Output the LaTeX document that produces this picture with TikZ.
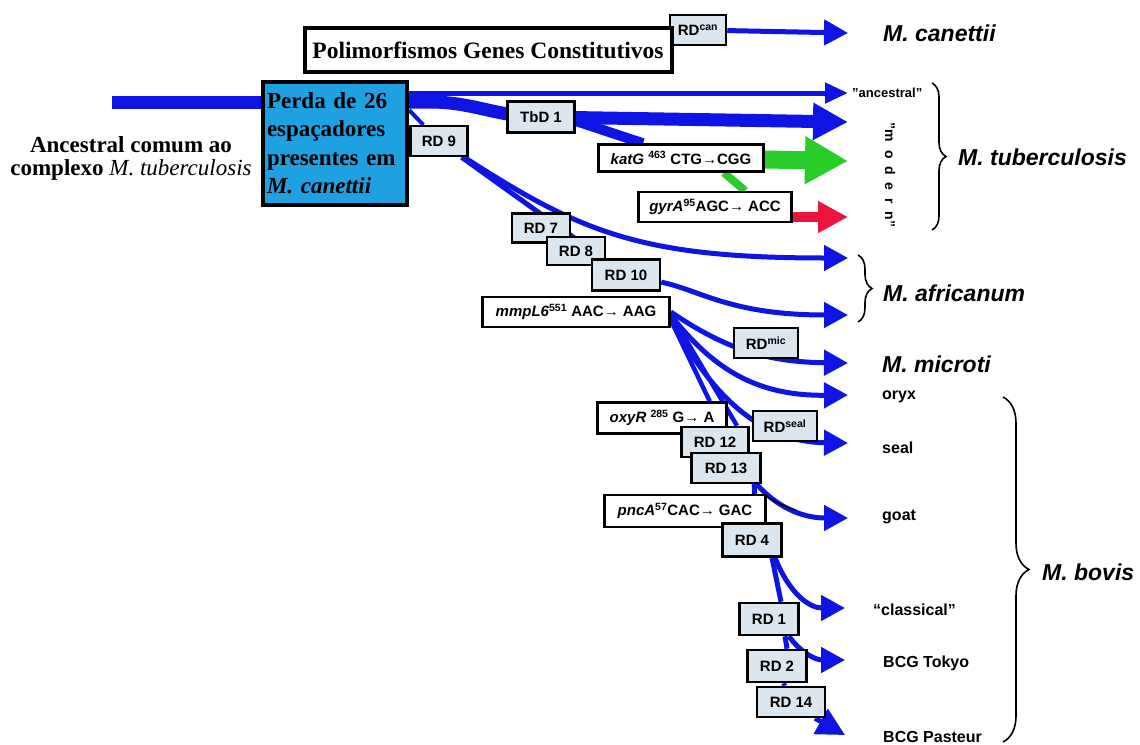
\documentclass[tikz,border=0pt]{standalone}
\usepackage{fontspec}
\setmainfont{Liberation Serif}
\setsansfont{Liberation Sans}
\usetikzlibrary{arrows.meta,backgrounds,decorations.pathreplacing}
\definecolor{tbblue}{RGB}{14,20,228}
\definecolor{boxfill}{RGB}{220,230,238}
\definecolor{lossblue}{RGB}{30,160,225}
\definecolor{katgreen}{RGB}{40,205,40}
\definecolor{gyrred}{RGB}{235,20,60}
\tikzset{
  rdbox/.style={draw, line width=2.5pt, fill=boxfill, inner sep=0pt, font=\sffamily\bfseries\fontsize{15}{15}\selectfont},
  mutbox/.style={rdbox, fill=white},
  branch/.style={tbblue, line width=5pt},
  arr/.style={-{Triangle[length=24pt,width=25pt]}},
  species/.style={anchor=west, inner sep=0pt, font=\sffamily\bfseries\itshape\fontsize{23}{23}\selectfont},
  host/.style={anchor=west, inner sep=0pt, font=\sffamily\bfseries\fontsize{16}{16}\selectfont},
  grp/.style={decorate, decoration={brace, amplitude=#1}, line width=1.6pt},
}
\begin{document}
\begin{tikzpicture}[x=1pt,y=-1pt]
	\useasboundingbox (0,0) rectangle (1140,744);
	% caixas
	\node[rdbox, minimum width=56pt, minimum height=30pt] (rdcan) at (698,30) {RD\textsuperscript{can}};
	\node[draw, line width=4pt, fill=white, minimum width=367pt, minimum height=44pt, font=\bfseries\fontsize{23.5}{24}\selectfont] (poly) at (488,50) {Polimorfismos Genes Constitutivos};
	\node[draw, line width=4pt, fill=lossblue, minimum width=144pt, minimum height=123pt, text width=136pt, inner sep=2pt, align=left, font=\bfseries\fontsize{23}{28.5}\selectfont] (loss) at (335,143) {Perda de 26\\espaçadores\\presentes em\\\textit{M. canettii}};
	\node[align=center, font=\bfseries\fontsize{23}{23}\selectfont] (anc) at (131,158) {Ancestral comum ao\\complexo \textit{\mdseries M. tuberculosis}};
	\node[rdbox, minimum width=67pt, minimum height=31pt] (tbd1) at (541,117) {TbD 1};
	\node[rdbox, minimum width=57pt, minimum height=30pt] (rd9) at (439,141) {RD 9};
	\node[mutbox, minimum width=165pt, minimum height=27pt] (katg) at (681,158) {\textit{katG} \textsuperscript{463} CTG→CGG};
	\node[mutbox, minimum width=153pt, minimum height=30pt] (gyra) at (715,207) {\textit{gyrA}\textsuperscript{95}AGC→ ACC};
	\node[rdbox, minimum width=58pt, minimum height=29pt] (rd7) at (541,228) {RD 7};
	\node[rdbox, minimum width=58pt, minimum height=28pt] (rd8) at (576,251) {RD 8};
	\node[rdbox, minimum width=68pt, minimum height=31pt] (rd10) at (626,275) {RD 10};
	\node[mutbox, minimum width=187pt, minimum height=30pt] (mmpl6) at (576,312) {\textit{mmpL6}\textsuperscript{551} AAC→ AAG};
	\node[rdbox, minimum width=64pt, minimum height=30pt] (rdmic) at (766,343) {RD\textsuperscript{mic}};
	\node[rdbox, minimum width=64pt, minimum height=30pt] (rdseal) at (785,426) {RD\textsuperscript{seal}};
	\node[mutbox, minimum width=129pt, minimum height=31pt] (oxyr) at (662,418) {\textit{oxyR} \textsuperscript{285} G→ A};
	\node[rdbox, minimum width=67pt, minimum height=30pt] (rd12) at (715,442) {RD 12};
	\node[rdbox, minimum width=69pt, minimum height=30pt] (rd13) at (726,468) {RD 13};
	\node[mutbox, minimum width=161pt, minimum height=32pt] (pnca) at (685,511) {\textit{pncA}\textsuperscript{57}CAC→ GAC};
	\node[rdbox, minimum width=59pt, minimum height=33pt] (rd4) at (752,540) {RD 4};
	\node[rdbox, minimum width=59pt, minimum height=32pt] (rd1) at (769,619) {RD 1};
	\node[rdbox, minimum width=59pt, minimum height=32pt] (rd2) at (777,666) {RD 2};
	\node[rdbox, minimum width=68pt, minimum height=30pt] (rd14) at (791,702) {RD 14};
	% pontas
	\coordinate (root) at (112,102);
	\coordinate (tcan) at (848,33);
	\coordinate (tanc) at (848,93);
	\coordinate (tmod) at (848,122);
	\coordinate (tkat) at (848,161);
	\coordinate (tgyr) at (848,217);
	\coordinate (tafr1) at (848,258);
	\coordinate (tafr2) at (848,315);
	\coordinate (tmic) at (848,363);
	\coordinate (tory) at (848,395);
	\coordinate (tsea) at (848,443);
	\coordinate (tgoa) at (848,518);
	\coordinate (tcla) at (845,608);
	\coordinate (ttok) at (845,660);
	\coordinate (tpas) at (845,735);
	% ramos
	\begin{scope}[on background layer]
		\draw[branch, line width=13pt] (root) -- (root -| loss);
		\draw[branch, arr] (rdcan) -- (tcan);
		\draw[branch, -{Triangle[length=23pt,width=20pt]}] (tanc -| loss) -- (tanc);
		\draw[branch, line width=13pt] (root -| loss) -- ++(95,0) to[out=0,in=180] (tbd1.center);
		\draw[branch, line width=13pt, -{Triangle[length=35pt,width=35pt]}] (tbd1) -- (tmod);
		\draw[branch, line width=10pt] ([yshift=-4pt]tbd1.east) -- ([xshift=-38pt]katg.north);
		\draw[katgreen, line width=18pt, -{Triangle[length=43pt,width=45pt]}] (katg) -- (tkat);
		\draw[katgreen, line width=8pt] ([xshift=43pt]katg.south) -- ([xshift=30pt]gyra.north);
		\draw[gyrred, line width=10pt, -{Triangle[length=30pt,width=30pt]}] (gyra.center |- tgyr) -- (tgyr);
		\draw[branch, line width=4pt] ([yshift=33pt]loss.east) -- (rd9);
		\draw[branch, arr] (rd9) .. controls (580,232) and (640,258) .. (tafr1);
		\draw[branch] (rd9) -- (rd10);
		\draw[branch, arr] (rd10) .. controls (700,290) and (730,315) .. (tafr2);
		\draw[branch, arr] (mmpl6.east) .. controls (720,345) and (760,362) .. (tmic);
		\draw[branch, arr] ([yshift=-3pt]mmpl6.east) .. controls (715,372) and (760,396) .. (tory);
		\draw[branch, arr] ([yshift=-6pt]mmpl6.east) .. controls (710,395) and (760,442) .. (tsea);
		\draw[branch, line width=4.5pt] ([yshift=-8pt]mmpl6.east) -- ([xshift=-18pt]oxyr.north east);
		\draw[branch, line width=4.5pt] ([yshift=-2pt]mmpl6.east) -- ([xshift=22pt]rd12.north);
		\draw[branch, arr] ([xshift=-5pt]rd13.south east) .. controls (775,505) and (800,518) .. (tgoa);
		\draw[black, line width=1.5pt] ([xshift=2pt,yshift=-10pt]rd13.south east) .. controls (772,500) and (782,506) .. (796,510);
		\draw[branch] ([xshift=28pt]rd13.center) -- ([xshift=3pt]rd4.center);
		\draw[branch, arr] ([xshift=23pt]rd4.south) .. controls (790,595) and (810,608) .. (tcla);
		\draw[branch] ([xshift=20pt]rd4.south) -- ([xshift=12pt]rd1.north);
		\draw[branch, arr] ([xshift=20pt]rd1.south) .. controls (800,652) and (815,660) .. (ttok);
		\draw[branch] ([xshift=16pt]rd1.south) -- ([xshift=10pt]rd2.north);
		\draw[branch] (rd2) -- (rd14);
		\draw[branch, -{Triangle[length=28pt,width=28pt]}] ([xshift=24pt]rd14.south) -- (tpas);
	\end{scope}
	% nomes
	\node[species] (mcan) at (883,33) {M. canettii};
	\node[anchor=west, inner sep=0pt, font=\sffamily\bfseries\fontsize{13}{13}\selectfont] (lanc) at (852,93) {"ancestral"};
	\node[rotate=-90, inner sep=0pt, font=\sffamily\bfseries\fontsize{14}{14}\selectfont] (lmod) at (890,175) {"m~~o~~d~~e~~r~~n"};
	\node[species] (mtb) at (958,157) {M. tuberculosis};
	\node[species] (mafr) at (883,293) {M. africanum};
	\node[species] (mmic) at (882,364) {M. microti};
	\node[host] (oryx) at (882,397) {oryx};
	\node[host] (seal) at (882,448) {seal};
	\node[host] (goat) at (882,517) {goat};
	\node[host] (clas) at (873,610) {“classical”};
	\node[host] (tokyo) at (883,663) {BCG Tokyo};
	\node[host] (past) at (883,737) {BCG Pasteur};
	\node[species] (mbov) at (1042,572) {M. bovis};
	\draw[grp=14pt] (932,83) -- (932,230);
	\draw[grp=14pt] (858,255) -- (858,322);
	\draw[grp=26pt] (1003,397) -- (1003,742);
\end{tikzpicture}
\end{document}
